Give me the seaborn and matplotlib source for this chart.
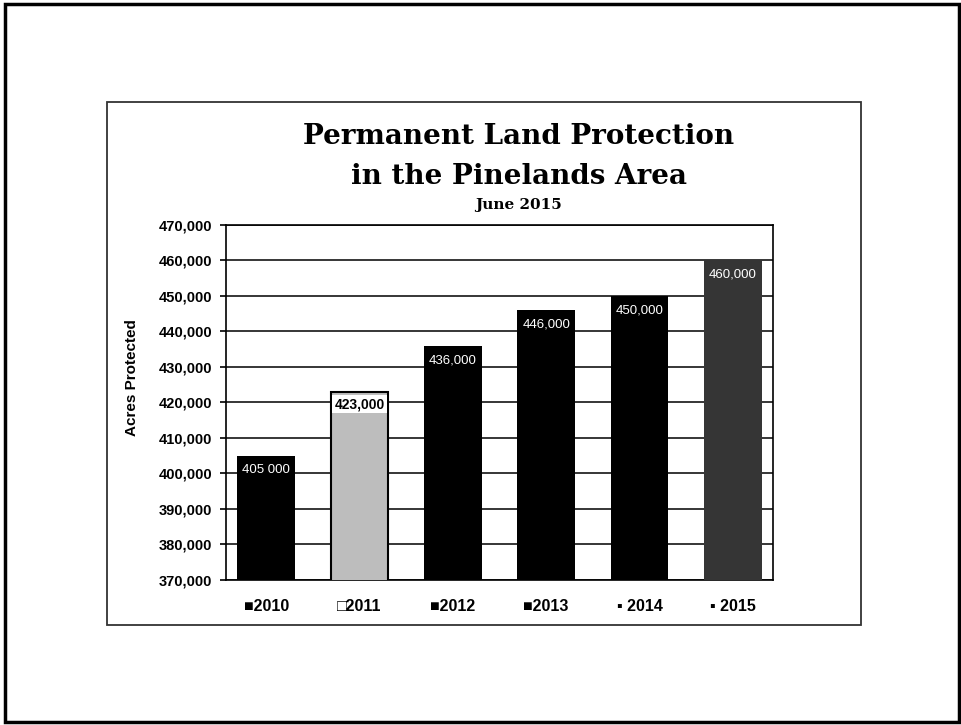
import matplotlib
matplotlib.use("Agg")
import matplotlib.pyplot as plt
from matplotlib.patches import Rectangle
import pandas as pd
import seaborn as sns

# chart values
years = ["2010", "2011", "2012", "2013", "2014", "2015"]
acres = [405000, 423000, 436000, 446000, 450000, 460000]
value_labels = ["405 000", "423,000", "436,000", "446,000", "450,000", "460,000"]
tick_labels = ["■2010", "□2011", "■2012", "■2013", "▪ 2014", "▪ 2015"]
bar_colors = ["#000000", "#bdbdbd", "#000000", "#000000", "#000000", "#353535"]

df = pd.DataFrame({"Year": years, "Acres": acres})

sns.set_style("white")
plt.rcParams["font.family"] = ["Liberation Sans", "DejaVu Sans"]
plt.rcParams["text.color"] = "black"
plt.rcParams["xtick.color"] = "black"
plt.rcParams["ytick.color"] = "black"

fig = plt.figure(figsize=(9.62, 7.25), dpi=100)
ax = fig.add_axes([226 / 962, 145 / 725, 547 / 962, 355 / 725])

sns.barplot(data=df, x="Year", y="Acres", hue="Year", palette=bar_colors,
            width=0.62, legend=False, saturation=1, ax=ax, zorder=3,
            edgecolor="none", linewidth=0)

# light bar for 2011 gets a black outline
ax.patches[1].set_edgecolor("black")
ax.patches[1].set_linewidth(1.5)

ax.set_ylim(370000, 470000)
ax.set_xlim(-0.43, 5.43)
ax.set_yticks(range(370000, 470001, 10000))
ax.set_yticklabels([f"{v:,}" for v in range(370000, 470001, 10000)],
                   fontsize=10.5, fontweight="bold")
ax.set_xticks(range(len(years)))
ax.set_xticklabels(tick_labels, fontsize=11.5, fontweight="bold")
ax.tick_params(axis="y", length=4, width=1.2, color="black", pad=6, direction="out", left=True)
ax.tick_params(axis="x", length=0, pad=14)
ax.set_xlabel("")
ax.set_ylabel("")

ax.yaxis.grid(True, color="black", linewidth=1.1)
ax.set_axisbelow(True)
for s in ax.spines.values():
    s.set_visible(True)
    s.set_color("black")
    s.set_linewidth(1.2)

# value labels at top of each bar
for i, (v, lab) in enumerate(zip(acres, value_labels)):
    if i == 1:
        ax.annotate(lab, xy=(i, v), xytext=(0, -4), textcoords="offset points",
                    ha="center", va="top", fontsize=10, fontweight="bold", color="black",
                    zorder=5,
                    bbox=dict(boxstyle="square,pad=0.15", fc="white", ec="none"))
    else:
        ax.annotate(lab, xy=(i, v), xytext=(0, -6), textcoords="offset points",
                    ha="center", va="top", fontsize=9.5, color="white", zorder=5)

# titles
fig.text(519 / 962, 1 - 137 / 725, "Permanent Land Protection", ha="center", va="center",
         family="DejaVu Serif", fontweight="bold", fontsize=20, color="black")
fig.text(519 / 962, 1 - 177 / 725, "in the Pinelands Area", ha="center", va="center",
         family="DejaVu Serif", fontweight="bold", fontsize=20, color="black")
fig.text(519 / 962, 1 - 205 / 725, "June 2015", ha="center", va="center",
         family="DejaVu Serif", fontweight="bold", fontsize=11, color="black")
fig.text(132 / 962, 1 - 378 / 725, "Acres Protected", ha="center", va="center",
         rotation=90, fontweight="bold", fontsize=11, color="black")

# chart frame and page border
fig.add_artist(Rectangle((107 / 962, 1 - 625 / 725), (861 - 107) / 962, (625 - 102) / 725,
                         transform=fig.transFigure, fill=False, ec="#333333", lw=1.3))
fig.add_artist(Rectangle((5 / 962, 3 / 725), (959 - 5) / 962, (721 - 3) / 725,
                         transform=fig.transFigure, fill=False, ec="black", lw=2.5))

fig.savefig("out.png", dpi=100)
